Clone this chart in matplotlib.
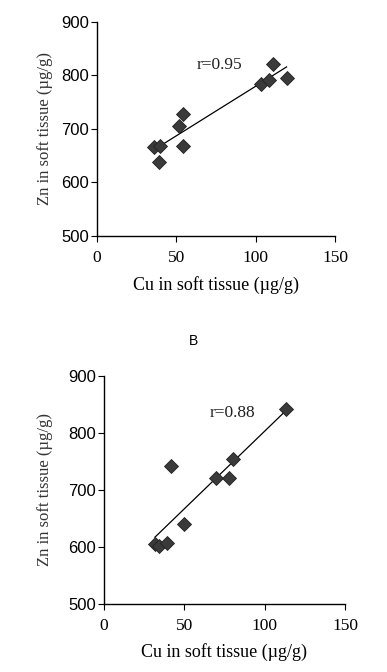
import matplotlib

matplotlib.use("Agg")
import matplotlib.pyplot as plt
import numpy as np

# panel A: Cu vs Zn in soft tissue (ug/g)
cu_a = [36, 39.5, 39, 51.5, 54.5, 54.5, 103.5, 108.5, 111, 119.5]
zn_a = [667, 669, 638, 706, 728, 669, 785, 792, 821, 795]
fit_a_x = [40.7, 119.5]
fit_a_y = [670, 816]
r_a = "r=0.95"

# panel B
cu_b = [32, 34.5, 39.5, 41.5, 50, 69.5, 78, 80.5, 113.5]
zn_b = [605, 602, 607, 741, 641, 721, 721, 754, 842]
fit_b_x = [31.7, 113.3]
fit_b_y = [617, 839]
r_b = "r=0.88"

x_ticks = [0, 50, 100, 150]
y_ticks = [500, 600, 700, 800, 900]

SERIF = ["Liberation Serif", "DejaVu Serif"]
SANS = ["Liberation Sans", "DejaVu Sans"]


def _panel(ax, cu, zn, fx, fy, rtxt, rpos, ylab_x, xlab_y):
    ax.plot(fx, fy, color="black", lw=0.9, zorder=2)
    ax.plot(cu, zn, ls="none", marker="D", ms=7, mfc="#3a3a3a", mec="#222222",
            mew=0.6, zorder=3)
    ax.text(rpos[0], rpos[1], rtxt, fontsize=12.5, family=SERIF, va="center",
            ha="left", color="#222222")
    ax.set_xlim(0, 150)
    ax.set_ylim(500, 900)
    ax.set_xticks(x_ticks)
    ax.set_yticks(y_ticks)
    for lbl in ax.get_xticklabels():
        lbl.set_family(SERIF)
        lbl.set_fontsize(12.5)
    for lbl in ax.get_yticklabels():
        lbl.set_family(SANS)
        lbl.set_fontsize(12)
    ax.tick_params(axis="both", length=4, width=0.8, pad=2)
    ax.tick_params(axis="x", pad=6)
    for s in ("top", "right"):
        ax.spines[s].set_visible(False)
    for s in ("left", "bottom"):
        ax.spines[s].set_linewidth(1.0)
    ax.set_xlabel("Cu in soft tissue (µg/g)", family=SERIF, fontsize=13,
                  va="center")
    ax.set_ylabel("Zn in soft tissue (µg/g)", family=SERIF, fontsize=12,
                  va="center", color="#333333")
    ax.xaxis.set_label_coords(0.5, xlab_y)
    ax.yaxis.set_label_coords(ylab_x, 0.5)


fig = plt.figure(figsize=(3.87, 6.72), dpi=100)
ax1 = fig.add_axes([0.2506, 0.6488, 0.615, 0.3185])
ax2 = fig.add_axes([0.2687, 0.1012, 0.6227, 0.3397])

_panel(ax1, cu_a, zn_a, fit_a_x, fit_a_y, r_a, (63, 820), -0.218, -0.229)
_panel(ax2, cu_b, zn_b, fit_b_x, fit_b_y, r_b, (66, 835), -0.245, -0.21)

fig.text(0.501, 0.4926, "B", family=SANS, fontsize=10, ha="center", va="center")

fig.savefig("out.png", dpi=100)
plt.close(fig)
